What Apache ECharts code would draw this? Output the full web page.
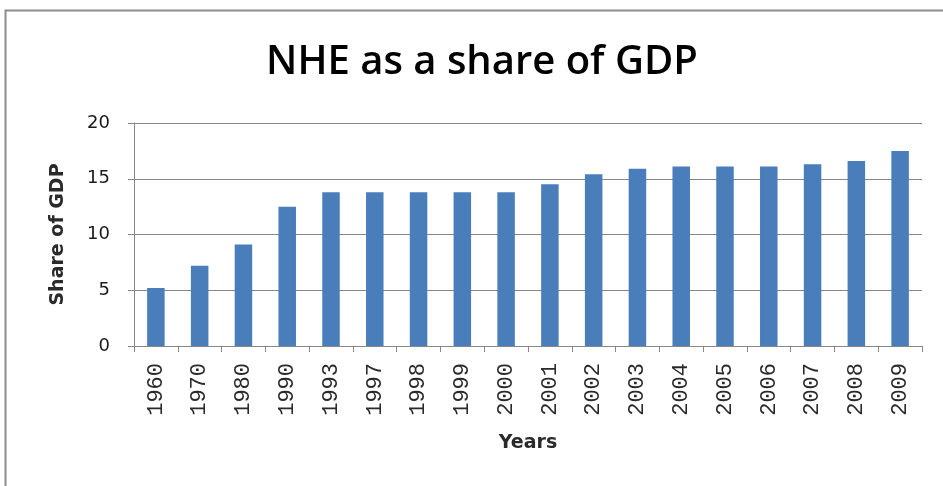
<!DOCTYPE html>
<html>
<head>
<meta charset="utf-8">
<script src="https://cdn.jsdelivr.net/npm/echarts@6/dist/echarts.min.js"></script>
<style>
  html, body { margin: 0; padding: 0; background: #fff; }
  #chart { width: 943px; height: 486px; }
</style>
</head>
<body>
<div id="chart"></div>
<script>
// National health expenditure as a share of GDP, by year
const years = ['1960', '1970', '1980', '1990', '1993', '1997', '1998', '1999', '2000',
               '2001', '2002', '2003', '2004', '2005', '2006', '2007', '2008', '2009'];
const shareOfGdp = [5.2, 7.2, 9.1, 12.5, 13.8, 13.8, 13.8, 13.8, 13.8,
                    14.5, 15.4, 15.9, 16.1, 16.1, 16.1, 16.3, 16.6, 17.5];
const yTicks = { min: 0, max: 20, step: 5 };

const chart = echarts.init(document.getElementById('chart'), null, { renderer: 'canvas' });
const gray = '#878787';

chart.setOption({
  animation: false,
  backgroundColor: '#fff',
  graphic: [{
    type: 'rect',
    shape: { x: 5.5, y: 10.5, width: 960, height: 500 },
    style: { fill: 'none', stroke: '#8c8c8c', lineWidth: 2 },
    silent: true
  }],
  title: {
    text: 'NHE as a share of GDP',
    left: 477, top: 38, textAlign: 'center',
    textStyle: { fontFamily: 'Open Sans', fontSize: 40, fontWeight: 600, color: '#000' }
  },
  grid: { left: 134, right: 21, top: 123, bottom: 140 },
  xAxis: {
    type: 'category',
    data: years,
    name: 'Years',
    nameLocation: 'middle',
    nameGap: 88,
    nameTextStyle: { fontFamily: 'DejaVu Sans', fontSize: 19, fontWeight: 'bold', color: '#2a2a2a' },
    axisLine: { lineStyle: { color: gray, width: 1 } },
    axisTick: { show: true, length: 6, alignWithLabel: false, lineStyle: { color: gray } },
    axisLabel: {
      rotate: 90, margin: 17, interval: 0,
      fontFamily: 'Liberation Mono', fontSize: 22, color: '#2a2a2a'
    }
  },
  yAxis: {
    type: 'value',
    min: yTicks.min, max: yTicks.max, interval: yTicks.step,
    name: 'Share of GDP',
    nameLocation: 'middle',
    nameRotate: 90,
    nameGap: 66,
    nameTextStyle: { fontFamily: 'DejaVu Sans', fontSize: 19, fontWeight: 'bold', color: '#2a2a2a' },
    axisLine: { show: true, lineStyle: { color: gray, width: 1 } },
    axisTick: { show: true, length: 6, lineStyle: { color: gray } },
    axisLabel: { margin: 24, fontFamily: 'DejaVu Sans', fontSize: 18, color: '#1a1a1a' },
    splitLine: { lineStyle: { color: gray, width: 1 } }
  },
  series: [{
    type: 'bar',
    data: shareOfGdp,
    barWidth: '40%',
    itemStyle: { color: '#4a7ebb' }
  }]
});
</script>
</body>
</html>
